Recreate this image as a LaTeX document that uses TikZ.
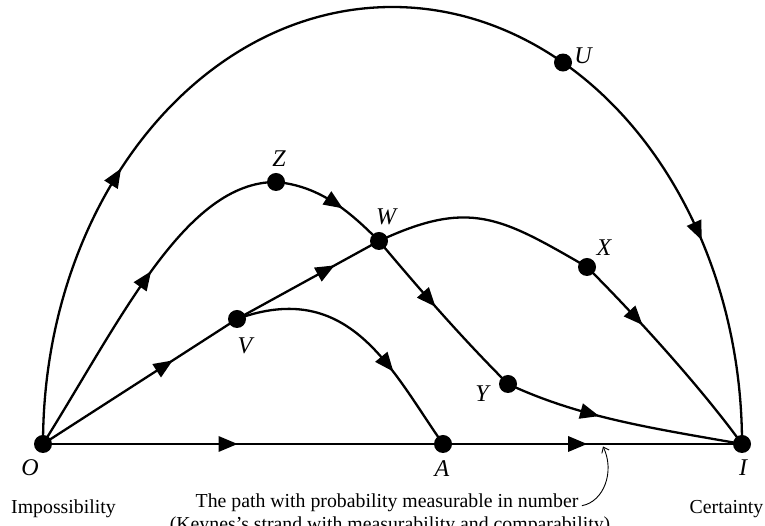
\documentclass[tikz,border=0pt]{standalone}
\usepackage{fontspec}
\setmainfont{Liberation Serif}
\usetikzlibrary{arrows.meta,decorations.markings}
\begin{document}
\begin{tikzpicture}[x=1pt,y=1pt,
  dot/.style={circle,fill=black,inner sep=0pt,minimum size=18pt},
  lab/.style={font=\fontsize{24}{26}\selectfont\itshape,inner sep=0pt},
  txt/.style={font=\fontsize{19.8}{23}\selectfont,anchor=base},
  strand/.style={line width=2.3pt},
  mid/.style={postaction={decorate,decoration={markings,
      mark=at position #1 with {\fill (9.5,0) -- (-9.5,8) -- (-9.5,-8) -- cycle;}}}},
  annot/.style={line width=0.9pt,-{Straight Barb[length=5pt,width=8pt]}}
]
\useasboundingbox (0,0) rectangle (765,526);

% points
\node[dot] (O) at (43,82) {};
\node[dot] (I) at (742,82) {};
\node[dot] (A) at (443,82) {};
\node[dot] (U) at (563.01,463.47) {};
\node[dot] (Z) at (276,344) {};
\node[dot] (W) at (379,285) {};
\node[dot] (X) at (587,259) {};
\node[dot] (V) at (237,207) {};
\node[dot] (Y) at (508,142) {};

% outer arc
\draw[strand,mid=0.35] (O.center) arc[start angle=180,end angle=60.8,x radius=349.5pt,y radius=437pt];
\draw[strand,mid=0.5] (U.center) arc[start angle=60.8,end angle=0,x radius=349.5pt,y radius=437pt];

% O - Z - W - Y - I
\draw[strand,mid=0.535] (O.center) .. controls +(58:150) and +(180:90) .. (Z.center);
\draw[strand,mid=0.52] (Z.center) .. controls +(-5:45) and +(135:40) .. (W.center);
\draw[strand,mid=0.4] (W.center) .. controls +(-50:65) and +(135:65) .. (Y.center);
\draw[strand,mid=0.36] (Y.center) .. controls +(-25:80) and +(170:90) .. (I.center);

% O - V - W - X - I
\draw[strand,mid=0.627] (O.center) -- (V.center);
\draw[strand,mid=0.628] (V.center) -- (W.center);
\draw[strand] (W.center) .. controls +(25:100) and +(150:100) .. (X.center);
\draw[strand,mid=0.3] (X.center) .. controls +(-45:70) and +(126:70) .. (I.center);

% V - A
\draw[strand,mid=0.636] (V.center) .. controls +(20:120) and +(125:90) .. (A.center);

% O - A - I
\draw[strand,mid=0.4625] (O.center) -- (A.center);
\draw[strand,mid=0.45] (A.center) -- (I.center);

% labels
\node[lab] (lO) at (30,58) {O};
\node[lab] (lI) at (743,58) {I};
\node[lab] (lA) at (442,57) {A};
\node[lab] (lU) at (583,470) {U};
\node[lab] (lZ) at (279,367) {Z};
\node[lab] (lW) at (386,309) {W};
\node[lab] (lX) at (604,278) {X};
\node[lab] (lV) at (245,180) {V};
\node[lab] (lY) at (482,132) {Y};

% texts
\node[txt] (imp) at (63.5,12) {Impossibility};
\node[txt] (cert) at (726.5,12) {Certainty};
\node[txt] (pathA) at (387,18) {The path with probability measurable in number};
\node[txt] (pathB) at (390,-5) {(Keynes’s strand with measurability and comparability)};

% annotation
\coordinate (tip) at (603,79.5);
\draw[annot] (pathA.mid east) .. controls +(22,4) and +(12,-25) .. (tip);
\end{tikzpicture}
\end{document}
